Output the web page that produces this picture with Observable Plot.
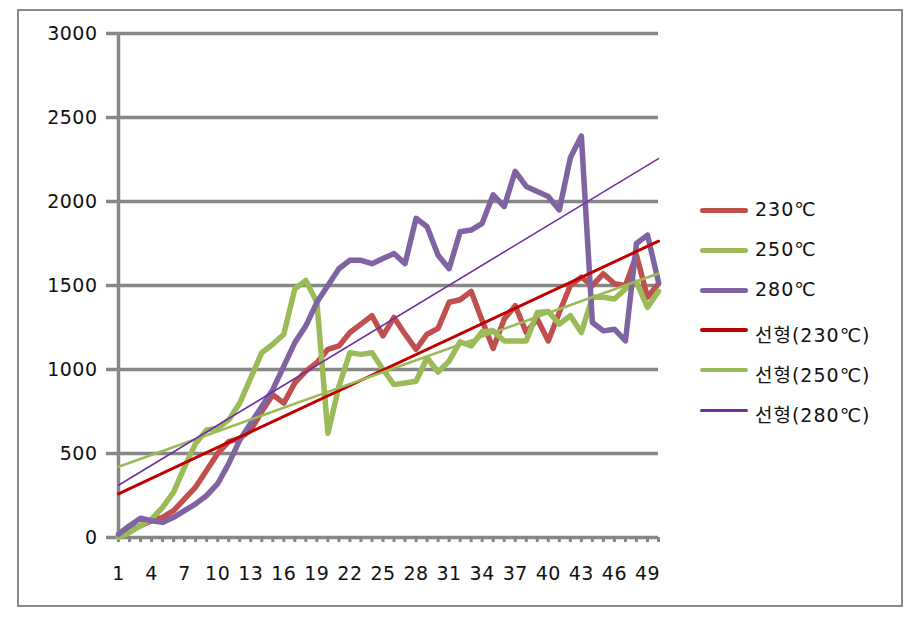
<!DOCTYPE html>
<html><head><meta charset="utf-8">
<script src="https://cdn.jsdelivr.net/npm/d3@7"></script>
<script src="https://cdn.jsdelivr.net/npm/@observablehq/plot@0.6"></script>
<style>
body{margin:0;background:#fff;font-family:"DejaVu Sans","Noto Sans CJK KR",sans-serif;}
#wrap{position:relative;width:921px;height:624px;}
#frame{position:absolute;left:17px;top:9px;width:886px;height:598px;border:2px solid #898989;box-sizing:border-box;pointer-events:none;}
.leg{position:absolute;left:700px;font-size:19px;color:#111;white-space:nowrap;letter-spacing:1px;}
.leg .s{position:absolute;left:0;width:48px;border-radius:3px;}
.leg .t{position:absolute;left:55px;line-height:1;}
</style></head><body>
<div id="wrap"><div id="frame"></div></div>
<script>
const xs = d3.range(1, 51);
const s230 = [10,40,70,100,120,160,230,300,400,500,570,590,640,750,850,800,920,990,1040,1120,1140,1220,1270,1320,1200,1310,1210,1120,1210,1245,1400,1415,1465,1290,1125,1300,1380,1220,1300,1170,1340,1500,1550,1500,1570,1510,1500,1680,1430,1510];
const s250 = [0,30,70,110,180,270,420,560,640,650,700,800,950,1100,1150,1210,1480,1530,1400,620,900,1100,1090,1100,1000,910,920,930,1070,985,1050,1165,1140,1225,1230,1170,1170,1170,1340,1345,1270,1320,1220,1430,1430,1420,1480,1520,1370,1465];
const s280 = [20,70,115,100,90,120,160,200,250,320,440,580,680,780,880,1020,1160,1260,1400,1500,1600,1650,1650,1630,1660,1690,1630,1900,1850,1680,1600,1820,1830,1870,2040,1970,2180,2090,2060,2030,1950,2260,2390,1280,1230,1240,1170,1750,1800,1520];
const yTicks = [0,500,1000,1500,2000,2500,3000];
const xTicks = d3.range(1, 50, 3);
const names = ["230℃","250℃","280℃"];
const trendNames = ["선형(230℃)","선형(250℃)","선형(280℃)"];
const colors = ["#C0504D","#9BBB59","#8064A2"];
const trendColors = ["#C00000","#9BBB59","#7030A0"];
const trendWidths = [3,2.6,1.6];

const series = [s230, s250, s280];
const rows = series.map(vals => xs.map((x, i) => ({x, y: vals[i]})));
const grid = "#878787";

const chart = Plot.plot({
  width: 921, height: 624,
  marginLeft: 118, marginRight: 263, marginTop: 33, marginBottom: 87,
  style: {fontFamily: '"DejaVu Sans","Noto Sans CJK KR",sans-serif', background: "transparent", color: "#111", letterSpacing: "0.5px"},
  x: {type: "linear", domain: [1, 50]},
  y: {domain: [0, 3000]},
  marks: [
    Plot.ruleY(yTicks, {stroke: grid, strokeWidth: 3.5}),
    Plot.axisY({ticks: yTicks, tickSize: 12, tickPadding: 9, fontSize: 19, stroke: grid, strokeWidth: 3.5, strokeOpacity: 1, label: null, tickFormat: d => String(d)}),
    Plot.ruleX([1], {stroke: grid, strokeWidth: 3.5}),
    Plot.axisX({ticks: xs, tickSize: 5, stroke: grid, strokeWidth: 3, strokeOpacity: 1, text: null, label: null}),
    Plot.axisX({ticks: xTicks, tickSize: 0, tickPadding: 29, fontSize: 19, label: null, tickFormat: d => String(d)}),
    ...rows.map((r, k) => Plot.line(r, {x: "x", y: "y", stroke: colors[k], strokeWidth: 5.5, strokeLinejoin: "round", strokeLinecap: "round"})),
    ...rows.map((r, k) => Plot.linearRegressionY(r, {x: "x", y: "y", stroke: trendColors[k], strokeWidth: trendWidths[k], ci: 0}))
  ]
});
chart.style.position = "absolute";
chart.style.left = "0px";
chart.style.top = "0px";
const wrap = document.getElementById("wrap");
wrap.insertBefore(chart, wrap.firstChild);

const legTop = [210, 250, 290, 330, 370, 410];
const items = [
  ...names.map((n, k) => ({label: n, color: colors[k], w: 5, off: 0})),
  ...trendNames.map((n, k) => ({label: n, color: trendColors[k], w: k === 2 ? 3 : 4, off: 6}))
];
items.forEach((it, i) => {
  const d = document.createElement("div");
  d.className = "leg";
  d.style.top = legTop[i] + "px";
  const s = document.createElement("div");
  s.className = "s";
  s.style.background = it.color;
  s.style.height = it.w + "px";
  s.style.top = (-it.w / 2) + "px";
  const t = document.createElement("div");
  t.className = "t";
  t.textContent = it.label;
  t.style.top = (-10 + it.off) + "px";
  d.appendChild(s); d.appendChild(t);
  wrap.appendChild(d);
});
</script>
</body></html>
